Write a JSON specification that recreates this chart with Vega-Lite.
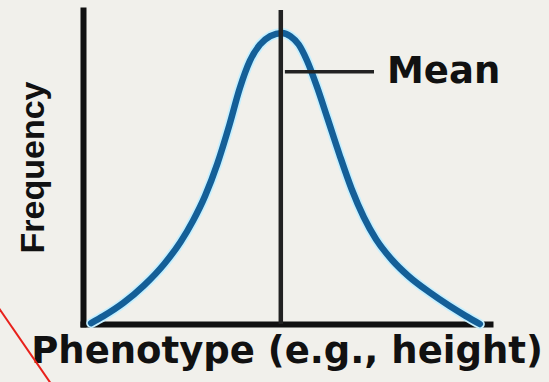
{
  "$schema": "https://vega.github.io/schema/vega-lite/v6.json",
  "width": 407,
  "height": 314,
  "autosize": {"type": "none"},
  "padding": {"left": 83, "top": 10, "right": 59, "bottom": 58},
  "background": "#f1f0eb",
  "config": {
    "view": {"stroke": null},
    "axis": {
      "grid": false,
      "ticks": false,
      "labels": false,
      "domainColor": "#111111",
      "domainWidth": 6,
      "domainCap": "square",
      "titleColor": "#111111"
    }
  },
  "datasets": {
    "curve": [
      {"phenotype": 2.0, "frequency": 0.3},
      {"phenotype": 5.0, "frequency": 2.5},
      {"phenotype": 10.0, "frequency": 6.8},
      {"phenotype": 15.0, "frequency": 12.3},
      {"phenotype": 20.0, "frequency": 19.2},
      {"phenotype": 24.0, "frequency": 26.2},
      {"phenotype": 27.0, "frequency": 32.8},
      {"phenotype": 30.0, "frequency": 40.8},
      {"phenotype": 33.0, "frequency": 51.0},
      {"phenotype": 36.0, "frequency": 63.5},
      {"phenotype": 38.5, "frequency": 75.0},
      {"phenotype": 41.0, "frequency": 83.8},
      {"phenotype": 43.5, "frequency": 89.0},
      {"phenotype": 46.0, "frequency": 91.7},
      {"phenotype": 48.9, "frequency": 92.7},
      {"phenotype": 51.0, "frequency": 91.6},
      {"phenotype": 53.0, "frequency": 89.0},
      {"phenotype": 55.0, "frequency": 84.0},
      {"phenotype": 57.5, "frequency": 75.5},
      {"phenotype": 60.0, "frequency": 65.8},
      {"phenotype": 63.0, "frequency": 54.0},
      {"phenotype": 66.0, "frequency": 43.0},
      {"phenotype": 69.0, "frequency": 34.0},
      {"phenotype": 72.0, "frequency": 27.0},
      {"phenotype": 76.0, "frequency": 20.3},
      {"phenotype": 80.0, "frequency": 15.2},
      {"phenotype": 85.0, "frequency": 10.2},
      {"phenotype": 90.0, "frequency": 5.8},
      {"phenotype": 94.0, "frequency": 2.6},
      {"phenotype": 97.5, "frequency": 0.0}
    ],
    "mean": [{"phenotype": 48.6, "frequency": 0, "top": 100}],
    "leader": [{"phenotype": 49.6, "end": 71.5, "frequency": 80.3}],
    "label": [{"phenotype": 74.7, "frequency": 76.8, "text": "Mean"}],
    "pen": [{"phenotype": -21.4, "frequency": 6.4, "phenotype_end": -7.4, "frequency_end": -19.9}]
  },
  "layer": [
    {
      "data": {"name": "curve"},
      "mark": {"type": "line", "interpolate": "monotone", "color": "#c6f0ff", "strokeWidth": 10, "strokeCap": "round"},
      "encoding": {
        "x": {
          "field": "phenotype", "type": "quantitative",
          "scale": {"domain": [0, 100], "nice": false, "zero": false},
          "axis": {
            "title": "Phenotype (e.g., height)",
            "titleFont": "DejaVu Sans",
            "titleFontWeight": "bold",
            "titleFontSize": 37,
            "titleBaseline": "alphabetic",
            "titlePadding": 38
          }
        },
        "y": {
          "field": "frequency", "type": "quantitative",
          "scale": {"domain": [0, 100], "nice": false, "zero": false},
          "axis": {
            "title": "Frequency",
            "titleFont": "Liberation Sans",
            "titleFontWeight": "bold",
            "titleFontSize": 34,
            "titleBaseline": "alphabetic",
            "titlePadding": 40
          }
        }
      }
    },
    {
      "data": {"name": "curve"},
      "mark": {"type": "line", "interpolate": "monotone", "color": "#145f98", "strokeWidth": 6.5, "strokeCap": "round"},
      "encoding": {
        "x": {"field": "phenotype", "type": "quantitative"},
        "y": {"field": "frequency", "type": "quantitative"}
      }
    },
    {
      "data": {"name": "mean"},
      "mark": {"type": "rule", "color": "#222222", "strokeWidth": 4.5},
      "encoding": {
        "x": {"field": "phenotype", "type": "quantitative"},
        "y": {"field": "frequency", "type": "quantitative"},
        "y2": {"field": "top"}
      }
    },
    {
      "data": {"name": "leader"},
      "mark": {"type": "rule", "color": "#222222", "strokeWidth": 3.5},
      "encoding": {
        "x": {"field": "phenotype", "type": "quantitative"},
        "x2": {"field": "end"},
        "y": {"field": "frequency", "type": "quantitative"}
      }
    },
    {
      "data": {"name": "label"},
      "mark": {"type": "text", "align": "left", "baseline": "alphabetic", "font": "DejaVu Sans", "fontWeight": "bold", "fontSize": 37, "color": "#111111"},
      "encoding": {
        "x": {"field": "phenotype", "type": "quantitative"},
        "y": {"field": "frequency", "type": "quantitative"},
        "text": {"field": "text"}
      }
    },
    {
      "data": {"name": "pen"},
      "mark": {"type": "rule", "color": "#e8211b", "strokeWidth": 2, "clip": false},
      "encoding": {
        "x": {"field": "phenotype", "type": "quantitative"},
        "x2": {"field": "phenotype_end"},
        "y": {"field": "frequency", "type": "quantitative"},
        "y2": {"field": "frequency_end"}
      }
    }
  ]
}
